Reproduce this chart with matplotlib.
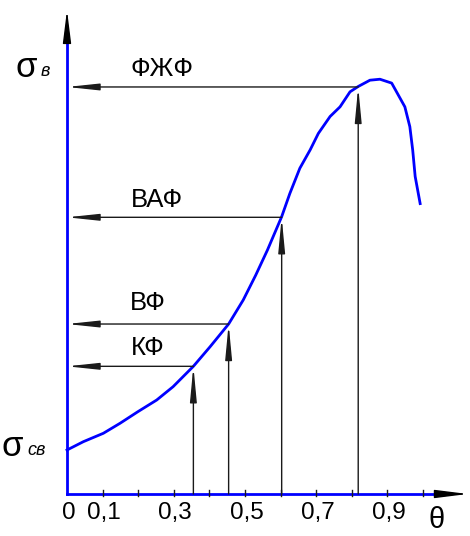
import numpy as np
import matplotlib
matplotlib.use('Agg')
import matplotlib.pyplot as plt

plt.rcParams['font.family'] = ['Liberation Sans', 'DejaVu Sans']

# кривая sigma(theta), в условных единицах (верх оси = 10)
theta = [0, 0.046, 0.102, 0.149, 0.199, 0.252, 0.298, 0.355, 0.402, 0.454,
         0.495, 0.530, 0.563, 0.603, 0.626, 0.654, 0.683, 0.706, 0.739, 0.767,
         0.795, 0.818, 0.851, 0.879, 0.912, 0.949, 0.963, 0.971, 0.978, 0.992]
sigma = [0.909, 1.081, 1.254, 1.461, 1.70, 1.942, 2.217, 2.638, 3.043, 3.512,
         4.008, 4.52, 5.04, 5.73, 6.21, 6.73, 7.11, 7.45, 7.80, 8.00,
         8.31, 8.42, 8.55, 8.57, 8.49, 8.00, 7.59, 7.11, 6.56, 6.00]

# точки перехода фаз
phase_names = ['КФ', 'ВФ', 'ВАФ', 'ФЖФ']
phase_theta = [0.355, 0.454, 0.603, 0.818]
phase_sigma = [2.638, 3.512, 5.717, 8.41]

xticks = [0, 0.1, 0.2, 0.3, 0.4, 0.5, 0.6, 0.7, 0.8, 0.9, 1.0]
xlabels = {0: '0', 0.1: '0,1', 0.3: '0,3', 0.5: '0,5', 0.7: '0,7', 0.9: '0,9'}

fig = plt.figure(figsize=(4.7, 5.36), dpi=100)
ax = fig.add_axes([0, 0, 1, 1])
ax.set_xlim(-0.1882, 1.132)
ax.set_ylim(-0.868, 10.207)
ax.axis('off')

blue = '#0000ff'
dark = '#1a1a1a'

# оси
ax.plot([0, 0], [0, 9.42], color=blue, lw=2)
ax.plot([0, 1.039], [0, 0], color=blue, lw=2)
ax.annotate('', xy=(0, 10.0), xytext=(0, 9.42),
            arrowprops=dict(arrowstyle='-|>,head_length=2.0,head_width=0.25',
                            color='black', lw=1, shrinkA=0, shrinkB=0,
                            mutation_scale=10))
ax.annotate('', xy=(1.126, 0), xytext=(1.039, 0),
            arrowprops=dict(arrowstyle='-|>,head_length=2.0,head_width=0.25',
                            color='black', lw=1, shrinkA=0, shrinkB=0,
                            mutation_scale=10))

# деления
for t in xticks[1:]:
    ax.plot([t, t], [-0.05, 0.08], color=dark, lw=1)
for t, s in xlabels.items():
    ax.text(t + 0.004, -0.4, s, ha='center', va='center', fontsize=17.5)
ax.text(1.038, -0.53, 'θ', ha='center', va='center', fontsize=21)

# кривая
ax.plot(theta, sigma, color=blue, lw=2)

# стрелки
for name, t, s in zip(phase_names, phase_theta, phase_sigma):
    ax.annotate('', xy=(0.0, s), xytext=(t, s),
                arrowprops=dict(arrowstyle='-|>,head_length=1.9,head_width=0.2',
                                color=dark, lw=1, shrinkA=0, shrinkB=0,
                                mutation_scale=10))
    ax.annotate('', xy=(t, s), xytext=(t, 0),
                arrowprops=dict(arrowstyle='-|>,head_length=2.1,head_width=0.2',
                                color=dark, lw=1, shrinkA=0, shrinkB=0,
                                mutation_scale=10))

label_pos = {'КФ': (0.227, 3.02), 'ВФ': (0.227, 3.95),
             'ВАФ': (0.253, 6.07), 'ФЖФ': (0.267, 8.78)}
for name in phase_names:
    x, y = label_pos[name]
    ax.text(x, y, name, ha='center', va='center', fontsize=18.5)

# обозначения по оси sigma
ax.text(-0.114, 8.82, 'σ', ha='center', va='center', fontsize=25)
ax.text(-0.073, 8.72, 'в', ha='left', va='center', fontsize=13, style='italic')
ax.text(-0.155, 0.99, 'σ', ha='center', va='center', fontsize=25)
ax.text(-0.112, 0.89, 'св', ha='left', va='center', fontsize=13, style='italic')

fig.savefig('out.png', dpi=100)
